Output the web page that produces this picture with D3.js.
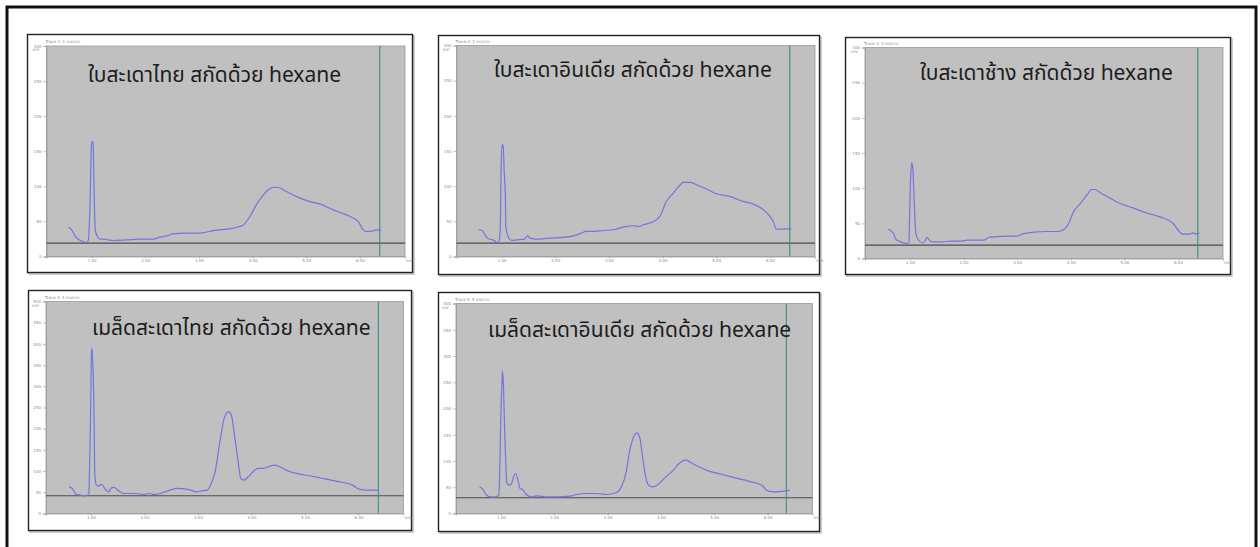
<!DOCTYPE html>
<html>
<head>
<meta charset="utf-8">
<script src="https://cdn.jsdelivr.net/npm/d3@7"></script>
<style>
  html, body { margin: 0; padding: 0; background: #fff; }
  svg { display: block; }
  .title { font-family: Tahoma, "Leelawadee UI", "Noto Sans Thai", "Noto Sans", sans-serif; fill: #1c1c1c; }
  .tiny { font-family: "DejaVu Sans", sans-serif; font-size: 4px; fill: #8a8a8a; }
</style>
</head>
<body>
<svg id="chart" width="1260" height="547"></svg>
<script>
// Panel titles
const titles = [
  "ใบสะเดาไทย สกัดด้วย hexane",
  "ใบสะเดาอินเดีย สกัดด้วย hexane",
  "ใบสะเดาช้าง สกัดด้วย hexane",
  "เมล็ดสะเดาไทย สกัดด้วย hexane",
  "เมล็ดสะเดาอินเดีย สกัดด้วย hexane"
];

// Shared retention-time axis
const xTicks = [1, 2, 3, 4, 5, 6];
const xTickLabels = ["1.00", "2.00", "3.00", "4.00", "5.00", "6.00"];
const xDomain = [0.16, 6.84];

// Intensity axes
const yTicksLeaf = [0, 50, 100, 150, 200, 250, 300];
const yTicksSeedThai = [0, 50, 100, 150, 200, 250, 300, 350, 400, 450, 500];
const yTicksSeedIndian = [0, 50, 100, 150, 200, 250, 300, 350, 400];

// Cursor (retention time) and reference baseline per trace
const cursorTimes = [6.37, 6.37, 6.37, 6.37, 6.35];
const baselines = [19, 19, 19, 42, 30];

// Traces: [time, signal]
const leafThai = [
  [0.57,41.8],[0.63,38.0],[0.69,29.4],[0.75,24.7],[0.84,21.4],[0.91,19.9],[0.94,23.7],
  [0.97,71.2],[1.00,161.4],[1.01,163.8],[1.03,161],[1.04,118.7],[1.07,38],[1.11,28.5],
  [1.16,24.7],[1.22,24.7],[1.40,22.8],[1.65,23.7],[1.90,24.7],[2.15,24.7],[2.27,27.5],
  [2.40,29.4],[2.52,32.3],[2.77,33.2],[3.02,33.2],[3.27,37.0],[3.52,38.9],[3.76,42.7],
  [3.83,45.1],[3.95,57.0],[4.07,73.6],[4.20,87.8],[4.29,94.9],[4.39,98.7],[4.48,98.3],
  [4.63,92.6],[4.82,85.4],[5.07,78.3],[5.25,75.0],[5.50,66.5],[5.63,62.7],[5.88,54.6],
  [5.97,49.8],[6.06,38.0],[6.12,35.6],[6.25,36.6],[6.31,38],[6.40,37]
];
const leafIndian = [
  [0.57,38.0],[0.64,37.0],[0.69,30.9],[0.75,25.2],[0.84,23.7],[0.92,19.9],[0.96,23.7],
  [0.98,57.0],[0.99,118.7],[1.01,159.0],[1.03,156.7],[1.05,118.7],[1.07,85.4],[1.08,42.7],
  [1.12,28.5],[1.19,22.8],[1.28,23.7],[1.43,24.7],[1.48,29.4],[1.53,26.1],[1.65,24.7],
  [1.78,25.2],[1.90,26.1],[2.15,27.1],[2.34,29.4],[2.46,32.3],[2.58,35.6],[2.71,35.6],
  [2.89,37.0],[3.08,38.0],[3.27,41.8],[3.45,43.7],[3.55,42.7],[3.64,45.1],[3.83,49.8],
  [3.95,57.0],[4.07,78.3],[4.20,90.2],[4.29,98.7],[4.39,105.4],[4.51,105.4],[4.63,102.1],
  [4.82,95.9],[5.00,89.2],[5.25,85.4],[5.50,78.3],[5.69,74.5],[5.88,66.5],[6.00,57.0],
  [6.06,49.8],[6.12,38.9],[6.22,38.9],[6.31,39.4],[6.40,38.9]
];
const leafElephant = [
  [0.59,41.2],[0.65,39.3],[0.70,34.6],[0.74,27.0],[0.83,23.7],[0.93,21.3],[0.98,22.3],
  [0.99,54.5],[1.01,111.4],[1.03,136.0],[1.05,130.3],[1.07,97.1],[1.09,59.2],[1.11,35.5],
  [1.15,27.0],[1.24,22.3],[1.28,25.1],[1.32,29.9],[1.36,26.1],[1.42,23.7],[1.58,23.7],
  [1.76,24.6],[1.95,24.6],[2.07,26.1],[2.38,26.1],[2.47,29.9],[2.57,30.8],[2.81,31.8],
  [3.00,31.8],[3.09,34.6],[3.31,37.4],[3.56,38.4],[3.74,38.4],[3.87,41.2],[3.96,49.8],
  [4.05,66.3],[4.18,78.2],[4.30,90.0],[4.39,98.1],[4.45,98.1],[4.55,93.4],[4.67,88.6],
  [4.92,78.2],[5.16,72.0],[5.41,64.9],[5.66,59.2],[5.91,49.8],[6.03,37.9],[6.09,34.6],
  [6.22,34.6],[6.28,36.5],[6.34,34.6],[6.40,36.5]
];
const seedThai = [
  [0.59,63.0],[0.66,57.5],[0.72,45.7],[0.81,43.3],[0.91,41.7],[0.96,47.2],[0.98,145.7],
  [0.99,208.7],[1.01,381.9],[1.02,389.8],[1.04,334.6],[1.06,208.7],[1.07,98.4],[1.10,66.9],
  [1.14,64.6],[1.19,68.5],[1.24,63.0],[1.28,55.1],[1.34,51.2],[1.38,60.6],[1.43,61.4],
  [1.50,55.1],[1.62,47.2],[1.80,47.2],[1.99,44.9],[2.08,47.2],[2.18,44.9],[2.30,47.2],
  [2.42,52.8],[2.61,59.1],[2.79,57.5],[2.98,51.2],[3.07,53.5],[3.17,55.1],[3.24,68.5],
  [3.32,98.4],[3.41,169.3],[3.49,224.4],[3.57,240.2],[3.63,228.3],[3.69,177.2],[3.75,122.0],
  [3.80,82.7],[3.85,78.7],[3.94,86.6],[4.03,98.4],[4.12,106.3],[4.22,106.3],[4.31,110.2],
  [4.43,114.2],[4.53,110.2],[4.65,102.4],[4.84,94.5],[5.08,89.0],[5.27,84.3],[5.58,76.4],
  [5.89,66.9],[6.01,57.5],[6.14,55.1],[6.38,55.1]
];
const seedIndian = [
  [0.60,50.8],[0.66,46.3],[0.72,36.2],[0.81,31.7],[0.91,31.7],[0.96,34.9],[0.98,79.4],
  [1.00,181.0],[1.02,244.4],[1.03,271.1],[1.05,244.4],[1.07,161.9],[1.09,104.8],[1.11,60.3],
  [1.15,54.0],[1.20,57.1],[1.25,73.0],[1.28,76.2],[1.32,63.5],[1.36,47.6],[1.40,46.3],
  [1.46,38.1],[1.56,31.7],[1.68,33.7],[1.87,31.7],[2.05,31.7],[2.30,33.0],[2.42,36.2],
  [2.61,38.1],[2.79,38.1],[2.98,36.2],[3.17,40.0],[3.26,50.8],[3.35,79.4],[3.41,117.5],
  [3.49,146.0],[3.55,153.7],[3.60,146.0],[3.66,104.8],[3.72,66.7],[3.78,52.7],[3.85,50.8],
  [3.97,57.1],[4.09,69.8],[4.22,81.3],[4.34,95.2],[4.47,101.6],[4.59,95.2],[4.71,88.9],
  [4.90,80.6],[5.15,74.3],[5.39,67.9],[5.64,61.6],[5.89,54.0],[6.01,42.5],[6.14,41.3],
  [6.32,42.5],[6.41,44.4]
];

const series = [leafThai, leafIndian, leafElephant, seedThai, seedIndian];
const yTickSets = [yTicksLeaf, yTicksLeaf, yTicksLeaf, yTicksSeedThai, yTicksSeedIndian];

// Panel layout: outer box and plot area (pixels), title anchor
const layout = [
  { box: [27.5, 34.5, 385, 238], plot: [46.5, 46, 358.5, 210.5], title: [88, 82] },
  { box: [438.5, 35.5, 381, 239], plot: [456.5, 45.5, 358.5, 211], title: [494, 77] },
  { box: [845.5, 37.5, 385, 237], plot: [865, 47.5, 358, 211], title: [920, 80] },
  { box: [28.5, 290.5, 383, 240], plot: [46, 301.5, 357.5, 212], title: [92, 335] },
  { box: [438.5, 292.5, 381, 239], plot: [456, 303.5, 356.5, 210], title: [488, 337] }
];

const svg = d3.select("#chart");

// Outer frame
svg.append("rect")
  .attr("x", 7).attr("y", 7)
  .attr("width", 1249).attr("height", 560)
  .attr("fill", "none").attr("stroke", "#111").attr("stroke-width", 3);

series.forEach((data, i) => {
  const L = layout[i];
  const g = svg.append("g");
  const [bx, by, bw, bh] = L.box;
  const [px, py, pw, ph] = L.plot;
  const yTicks = yTickSets[i];

  // panel box with soft shadow
  g.append("rect").attr("x", bx + 1.5).attr("y", by + 1.5).attr("width", bw).attr("height", bh)
    .attr("fill", "none").attr("stroke", "#bbb").attr("stroke-width", 1.5);
  g.append("rect").attr("x", bx).attr("y", by).attr("width", bw).attr("height", bh)
    .attr("fill", "#fff").attr("stroke", "#222").attr("stroke-width", 1.4);

  const x = d3.scaleLinear().domain(xDomain).range([px, px + pw]);
  const y = d3.scaleLinear().domain([0, d3.max(yTicks)]).range([py + ph, py]);

  // plot background
  g.append("rect").attr("x", px).attr("y", py).attr("width", pw).attr("height", ph)
    .attr("fill", "#c0c0c0").attr("stroke", "#9a9a9a").attr("stroke-width", 0.8);

  // axes
  const yAxis = d3.axisLeft(y).tickValues(yTicks).tickSize(3).tickPadding(2)
    .tickFormat(d => String(d));
  const ya = g.append("g").attr("transform", `translate(${px},0)`).call(yAxis);
  const xAxis = d3.axisBottom(x).tickValues(xTicks).tickSize(2).tickPadding(1)
    .tickFormat((d, k) => xTickLabels[k]);
  const xa = g.append("g").attr("transform", `translate(0,${py + ph})`).call(xAxis);
  [ya, xa].forEach(a => {
    a.select(".domain").attr("stroke", "#9a9a9a").attr("stroke-width", 0.8);
    a.selectAll(".tick line").attr("stroke", "#999").attr("stroke-width", 0.6);
    a.selectAll(".tick text").attr("class", "tiny").attr("font-size", null).attr("font-family", null);
  });

  // small trace header and unit labels
  g.append("text").attr("class", "tiny").attr("x", px - 1).attr("y", py - 3).text(`Trace ${i + 1}: ${i + 1} ms/cm`);
  g.append("text").attr("class", "tiny").attr("x", px - 14).attr("y", py + 5).text("mV");
  g.append("text").attr("class", "tiny").attr("x", px + pw + 1).attr("y", py + ph + 5).text("min");

  // reference baseline
  g.append("line")
    .attr("x1", px).attr("x2", px + pw)
    .attr("y1", y(baselines[i])).attr("y2", y(baselines[i]))
    .attr("stroke", "#4d4d4d").attr("stroke-width", 1.1);

  // cursor
  g.append("line")
    .attr("x1", x(cursorTimes[i])).attr("x2", x(cursorTimes[i]))
    .attr("y1", py).attr("y2", py + ph)
    .attr("stroke", "#3f8a86").attr("stroke-width", 1.1);

  // trace
  const line = d3.line().x(d => x(d[0])).y(d => y(d[1])).curve(d3.curveMonotoneX);
  g.append("path").datum(data).attr("d", line)
    .attr("fill", "none").attr("stroke", "#7474de").attr("stroke-width", 1.2)
    .attr("stroke-linejoin", "round");

  // title
  g.append("text").attr("class", "title")
    .attr("x", L.title[0]).attr("y", L.title[1])
    .attr("font-size", 21)
    .text(titles[i]);
});
</script>
</body>
</html>
